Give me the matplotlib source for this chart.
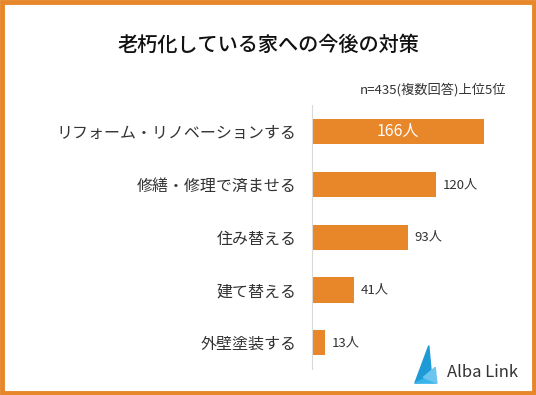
import matplotlib
matplotlib.use("Agg")
import matplotlib.pyplot as plt
from matplotlib.patches import Polygon, Rectangle

plt.rcParams["font.family"] = ["Noto Sans CJK JP", "DejaVu Sans"]

categories = ["リフォーム・リノベーションする", "修繕・修理で済ませる", "住み替える", "建て替える", "外壁塗装する"]
counts = [166, 120, 93, 41, 13]
value_labels = ["166人", "120人", "93人", "41人", "13人"]

ORANGE = "#E8862A"
TEXT = "#333333"

fig = plt.figure(figsize=(5.36, 3.95), dpi=100)
ax = fig.add_axes([0.582, 0.066, 0.386, 0.667])

y = list(range(len(categories)))
ax.barh(y, counts, height=0.48, color=ORANGE)
ax.set_ylim(len(categories) - 0.5, -0.5)
ax.set_xlim(0, 200)

for i, (v, lab) in enumerate(zip(counts, value_labels)):
    if i == 0:
        ax.text(v / 2, i, lab, color="white", fontsize=11.5, ha="center", va="center")
    else:
        ax.text(v + 6, i, lab, color=TEXT, fontsize=9.5, ha="left", va="center")

ax.set_yticks(y)
ax.set_yticklabels(categories, fontsize=11.5, color=TEXT)
ax.tick_params(axis="y", length=0, pad=11)
ax.set_xticks([])
for s in ["top", "right", "bottom"]:
    ax.spines[s].set_visible(False)
ax.spines["left"].set_color("#d9d9d9")

fig.text(0.5, 0.886, "老朽化している家への今後の対策", fontsize=14.5, fontweight="medium",
         ha="center", va="center", color="#111111")
fig.text(0.944, 0.772, "n=435(複数回答)上位5位", fontsize=9.5, ha="right", va="center", color=TEXT)

# logo
fig.text(0.834, 0.056, "Alba Link", fontsize=12, ha="left", va="center", color="#333333")
for pts, c in [
    ([(0.774, 0.03), (0.806, 0.035), (0.8, 0.125)], "#1E9BD7"),
    ([(0.774, 0.03), (0.815, 0.03), (0.806, 0.05)], "#38B6EC"),
    ([(0.790, 0.045), (0.815, 0.03), (0.812, 0.07)], "#6CC5EE"),
]:
    fig.patches.append(Polygon(pts, closed=True, transform=fig.transFigure, color=c))

# border
fig.patches.append(Rectangle((0.003, 0.004), 0.994, 0.992, transform=fig.transFigure,
                             fill=False, edgecolor=ORANGE, linewidth=3.5))

fig.savefig("out.png", dpi=100)
